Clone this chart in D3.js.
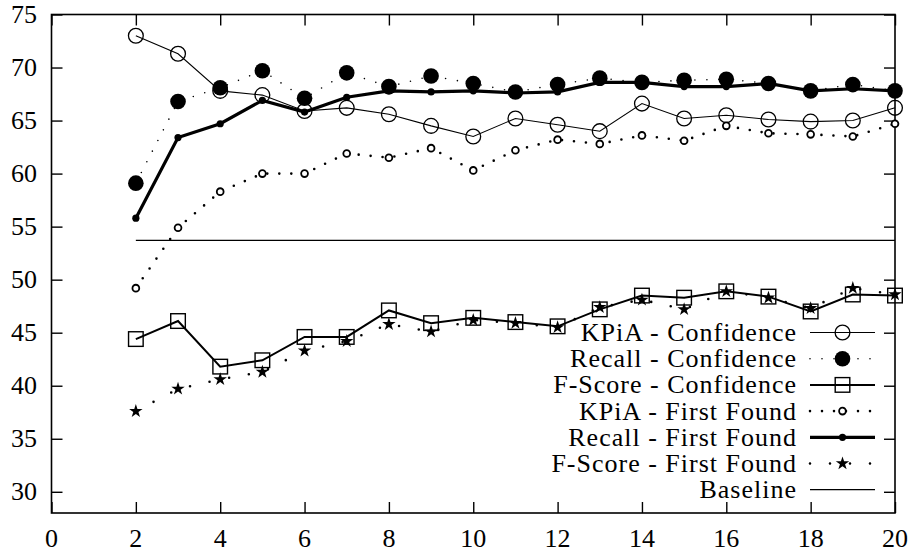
<!DOCTYPE html>
<html>
<head>
<meta charset="utf-8">
<script src="https://cdn.jsdelivr.net/npm/d3@7"></script>
<style>
  body { margin: 0; background: #fff; }
  svg { display: block; }
  .lbl { font-family: 'Liberation Serif'; font-size: 26px; }
</style>
</head>
<body>
<script>
//// Data ////////////////////////////////////////////
const xs = d3.range(2, 21)   // 2..20

const kpiaConf = [73.0, 71.3, 67.8, 67.4, 65.9, 66.2, 65.6, 64.5, 63.5, 65.2,
  64.6, 64.0, 66.6, 65.2, 65.5, 65.1, 64.9, 65.0, 66.2]
const recallConf = [59.1, 66.8, 68.1, 69.7, 67.1, 69.5, 68.2, 69.2, 68.5, 67.7,
  68.4, 69.0, 68.6, 68.8, 68.9, 68.5, 67.8, 68.4, 67.8]
const fscoreConf = [44.4, 46.1, 41.8, 42.4, 44.6, 44.6, 47.1, 45.9, 46.4, 46.0,
  45.6, 47.2, 48.5, 48.3, 48.9, 48.4, 47.0, 48.6, 48.5]
const kpiaFirst = [49.2, 54.9, 58.3, 60.0, 60.0, 61.9, 61.5, 62.4, 60.3, 62.2,
  63.2, 62.8, 63.6, 63.1, 64.5, 63.8, 63.7, 63.5, 64.7]
const recallFirst = [55.8, 63.4, 64.7, 66.9, 65.8, 67.2, 67.8, 67.7, 67.8, 67.6,
  67.7, 68.6, 68.6, 68.2, 68.2, 68.5, 67.8, 68.0, 67.8]
const fscoreFirst = [37.6, 39.7, 40.6, 41.3, 43.3, 44.2, 45.8, 45.1, 46.2, 45.9,
  45.5, 47.4, 48.1, 47.2, 48.9, 48.3, 47.3, 49.2, 48.6]
const baseline = 53.7

const xTicks = d3.range(0, 21, 2)
const yTicks = d3.range(30, 76, 5)

//// Drawing constants ///////////////////////////////
const WIDTH = 918
const HEIGHT = 560
const LEFT = 51.5, RIGHT = 895, TOP = 14.5, BOTTOM = 513

const x = d3.scaleLinear().domain([0, 20]).range([LEFT, RIGHT])
const y = d3.scaleLinear().domain([28, 75]).range([BOTTOM, TOP])

// one entry per series: how to draw line and marker
const series = [
  { name: "KPiA - Confidence", values: kpiaConf, line: { w: 1.1 }, mark: "bigOpen" },
  { name: "Recall - Confidence", values: recallConf, line: { w: 1.6, dash: "0 12" }, mark: "bigFilled" },
  { name: "F-Score - Confidence", values: fscoreConf, line: { w: 2 }, mark: "square" },
  { name: "KPiA - First Found", values: kpiaFirst, line: { w: 2.6, dash: "0 12" }, mark: "smallOpen" },
  { name: "Recall - First Found", values: recallFirst, line: { w: 3.2 }, mark: "smallFilled" },
  { name: "F-Score - First Found", values: fscoreFirst, line: { w: 2.6, dash: "0 20" }, mark: "star" },
]
const legendItems = series.concat([{ name: "Baseline", line: { w: 1.3 }, mark: null }])

const svg = d3.select("body")
  .append("svg")
  .attr("width", WIDTH)
  .attr("height", HEIGHT)

function label(sel) {
  return sel.attr("class", "lbl")
    .attr("font-family", "Liberation Serif")
    .attr("font-size", 26)
    .style("font-family", "'Liberation Serif'")
    .style("font-size", "26px")
}

//// Text ////////////////////////////////////////////
const texts = svg.append("g")

label(texts.append("g").selectAll("text")
  .data(xTicks)
  .join("text")
  .attr("x", d => x(d))
  .attr("y", 547)
  .attr("text-anchor", "middle")
  .text(d => d))

label(texts.append("g").selectAll("text")
  .data(yTicks)
  .join("text")
  .attr("x", 37)
  .attr("y", d => y(d) + 8.5)
  .attr("text-anchor", "end")
  .text(d => d))

const LEG_TEXT_X = 797, LEG_Y0 = 332.5, LEG_STEP = 26.2
const SAMPLE_X0 = 810, SAMPLE_X1 = 875

label(texts.append("g").selectAll("text")
  .data(legendItems)
  .join("text")
  .attr("x", LEG_TEXT_X)
  .attr("y", (d, i) => LEG_Y0 + i * LEG_STEP + 8.5)
  .attr("text-anchor", "end")
  .text(d => d.name))
  .style("letter-spacing", "1px")

//// Axes ////////////////////////////////////////////
const tickLen = 11

const axes = [
  [d3.axisBottom(x).tickValues(xTicks), `translate(0,${BOTTOM})`],
  [d3.axisTop(x).tickValues(xTicks), `translate(0,${TOP})`],
  [d3.axisLeft(y).tickValues(yTicks), `translate(${LEFT},0)`],
  [d3.axisRight(y).tickValues(yTicks), `translate(${RIGHT},0)`],
]
for (const [axis, tr] of axes) {
  const g = svg.append("g").attr("transform", tr)
    .call(axis.tickSizeInner(-tickLen).tickSizeOuter(0).tickFormat(""))
  g.select(".domain").remove()
  g.selectAll("text").remove()
  g.selectAll("line").attr("stroke", "#000").attr("stroke-width", 1.4)
}

svg.append("rect")
  .attr("x", LEFT).attr("y", TOP)
  .attr("width", RIGHT - LEFT).attr("height", BOTTOM - TOP)
  .attr("fill", "none").attr("stroke", "#000").attr("stroke-width", 1.6)

//// Markers /////////////////////////////////////////
function drawMarker(g, kind, cx, cy) {
  if (kind == "bigOpen") {
    g.append("circle").attr("cx", cx).attr("cy", cy).attr("r", 7.4)
      .attr("fill", "none").attr("stroke", "#000").attr("stroke-width", 1.3)
  }
  else if (kind == "bigFilled") {
    g.append("circle").attr("cx", cx).attr("cy", cy).attr("r", 7.8).attr("fill", "#000")
  }
  else if (kind == "square") {
    g.append("rect").attr("x", cx - 7.3).attr("y", cy - 7.3).attr("width", 14.6).attr("height", 14.6)
      .attr("fill", "none").attr("stroke", "#000").attr("stroke-width", 1.4)
  }
  else if (kind == "smallOpen") {
    g.append("circle").attr("cx", cx).attr("cy", cy).attr("r", 3.4)
      .attr("fill", "#fff").attr("stroke", "#000").attr("stroke-width", 1.8)
  }
  else if (kind == "smallFilled") {
    g.append("circle").attr("cx", cx).attr("cy", cy).attr("r", 3.6).attr("fill", "#000")
  }
  else if (kind == "star") {
    g.append("path")
      .attr("d", d3.symbol(d3.symbolStar, 56)())
      .attr("transform", `translate(${cx},${cy})`)
      .attr("fill", "#000")
  }
}

function styleLine(sel, line) {
  sel.attr("fill", "none").attr("stroke", "#000").attr("stroke-width", line.w)
  if (line.dash) {
    sel.attr("stroke-dasharray", line.dash).attr("stroke-linecap", "round")
  }
  return sel
}

//// Series //////////////////////////////////////////
const lineGen = d3.line().x(d => x(d[0])).y(d => y(d[1]))
const plot = svg.append("g")

for (const s of series) {
  const pts = xs.map((v, i) => [v, s.values[i]])
  styleLine(plot.append("path").attr("d", lineGen(pts)), s.line)
  pts.forEach(p => drawMarker(plot, s.mark, x(p[0]), y(p[1])))
}

plot.append("path")
  .attr("d", lineGen([[2, baseline], [20, baseline]]))
  .attr("fill", "none").attr("stroke", "#000").attr("stroke-width", 1.3)

//// Legend samples //////////////////////////////////
const legend = svg.append("g")
legendItems.forEach((s, i) => {
  const cy = LEG_Y0 + i * LEG_STEP
  styleLine(legend.append("path").attr("d", `M${SAMPLE_X0},${cy}H${SAMPLE_X1}`), s.line)
  if (s.mark) drawMarker(legend, s.mark, (SAMPLE_X0 + SAMPLE_X1) / 2, cy)
})
</script>
</body>
</html>
